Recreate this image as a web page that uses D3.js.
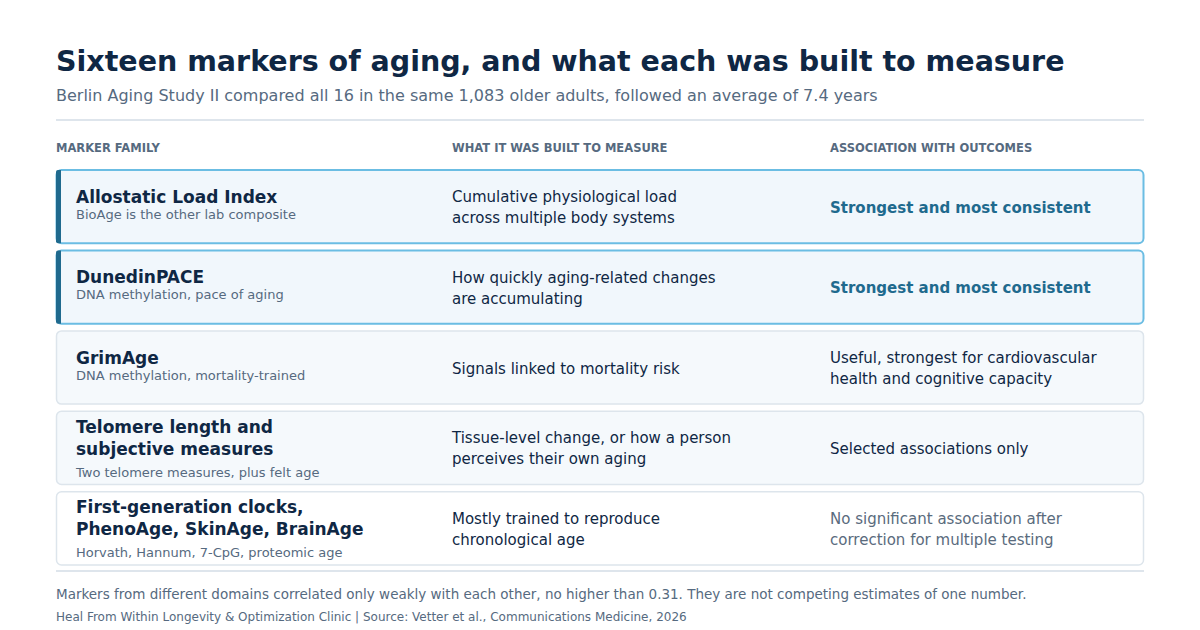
<!DOCTYPE html><html><head><meta charset="utf-8"><script src="https://cdn.jsdelivr.net/npm/d3@7"></script>
<style>body{margin:0;background:#fff}</style></head><body><svg id="c" width="1200" height="630"></svg><script>
const families=[["Allostatic Load Index"],["DunedinPACE"],["GrimAge"],["Telomere length and","subjective measures"],["First-generation clocks,","PhenoAge, SkinAge, BrainAge"]];
const subs=["BioAge is the other lab composite","DNA methylation, pace of aging","DNA methylation, mortality-trained","Two telomere measures, plus felt age","Horvath, Hannum, 7-CpG, proteomic age"];
const measures=[["Cumulative physiological load","across multiple body systems"],["How quickly aging-related changes","are accumulating"],["Signals linked to mortality risk"],["Tissue-level change, or how a person","perceives their own aging"],["Mostly trained to reproduce","chronological age"]];
const outcomes=[["Strongest and most consistent"],["Strongest and most consistent"],["Useful, strongest for cardiovascular","health and cognitive capacity"],["Selected associations only"],["No significant association after","correction for multiple testing"]];
const tiers=["top","top","mid","mid","low"];
const headers=["MARKER FAMILY","WHAT IT WAS BUILT TO MEASURE","ASSOCIATION WITH OUTCOMES"];
const svg=d3.select("#c"),F="DejaVu Sans, sans-serif";
const t=(x,y,s,sz,c,w)=>svg.append("text").attr("x",x).attr("y",y).text(s).attr("font-family",F).attr("font-size",sz).attr("fill",c).attr("font-weight",w||"normal");
t(56,71,"Sixteen markers of aging, and what each was built to measure",28.5,"#0f2744","bold");
t(56,101,"Berlin Aging Study II compared all 16 in the same 1,083 older adults, followed an average of 7.4 years",16,"#566a80");
svg.append("line").attr("x1",56).attr("x2",1144).attr("y1",120).attr("y2",120).attr("stroke","#d3dde6").attr("stroke-width",1.5);
const cx=[56,452,830];
headers.forEach((h,i)=>t(cx[i],152,h,11.5,"#566a80","bold"));
const y=d3.scaleBand().domain(d3.range(families.length)).range([170,565]).paddingInner(0.09);
const fill={top:"#f1f7fc",mid:"#f5f9fc",low:"#ffffff"},stroke={top:"#6bbde3",mid:"#dde5ec",low:"#dde5ec"};
const ocol={top:"#1f6a8e",mid:"#0f2744",low:"#5a6b7d"};
families.forEach((f,i)=>{
 const y0=y(i),h=y.bandwidth(),tr=tiers[i],mid=y0+h/2;
 svg.append("rect").attr("x",56.5).attr("y",y0).attr("width",1087).attr("height",h).attr("rx",5).attr("fill",fill[tr]).attr("stroke",stroke[tr]).attr("stroke-width",tr=="top"?2:1.5);
 if(tr=="top")svg.append("path").attr("d",`M61,${y0} h-3 a2,2 0 0 0 -2,2 v${h-4} a2,2 0 0 0 2,2 h3 z`).attr("fill","#1f6a8e");
 const nl=f.length,top=mid-(nl*22+18)/2+16;
 f.forEach((s,j)=>t(76,top+j*22,s,17,"#0f2744","bold"));
 t(76,top+(nl-1)*22+(nl>1?22:16),subs[i],13,"#566a80");
 const ml=measures[i];ml.forEach((s,j)=>t(452,mid+6-(ml.length-1)*10.5+j*21,s,15,"#0f2744"));
 const ol=outcomes[i];ol.forEach((s,j)=>t(830,mid+6-(ol.length-1)*10.5+j*21,s,15,ocol[tr],tr=="top"?"bold":"normal"));
});
svg.append("line").attr("x1",56).attr("x2",1144).attr("y1",571).attr("y2",571).attr("stroke","#d3dde6").attr("stroke-width",1.5);
t(56,599,"Markers from different domains correlated only weakly with each other, no higher than 0.31. They are not competing estimates of one number.",13.5,"#566a80");
t(56,621,"Heal From Within Longevity & Optimization Clinic   |   Source: Vetter et al., Communications Medicine, 2026",12,"#566a80");
</script></body></html>
